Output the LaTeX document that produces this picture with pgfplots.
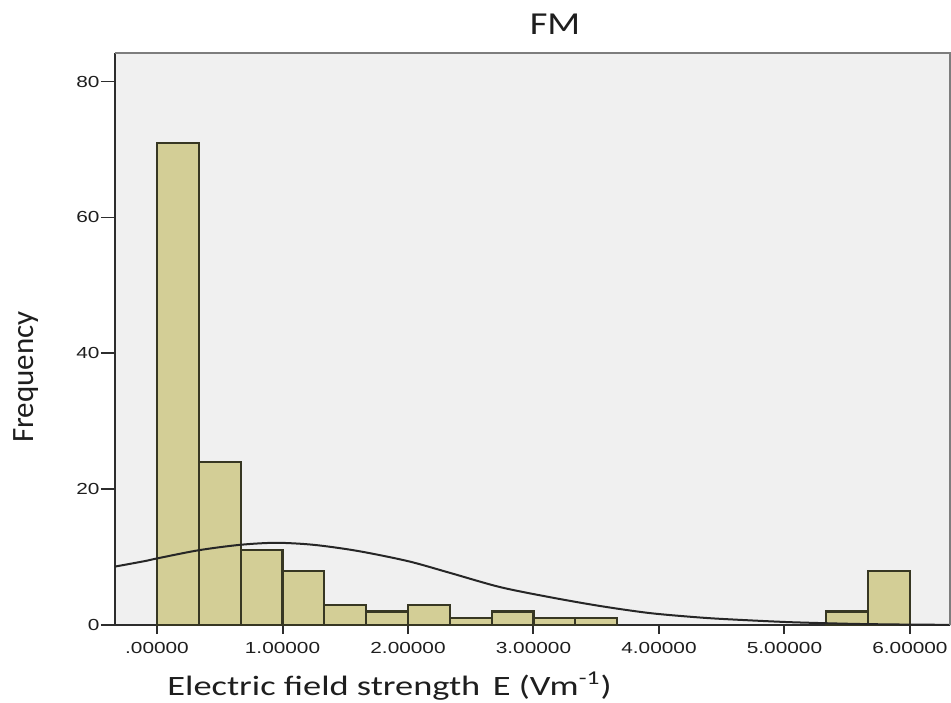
\documentclass[border=0pt]{standalone}
\usepackage{fontspec}
\usepackage{pgfplots}
\pgfplotsset{compat=1.18}
\setmainfont{Carlito}
\newfontfamily\tickfont[FakeStretch=1.3]{Liberation Sans}
\newfontfamily\labfont[FakeStretch=1.2]{Carlito}
\newfontfamily\xlabfont[FakeStretch=1.3]{Carlito}
\definecolor{barfill}{RGB}{211,206,150}
\definecolor{baredge}{RGB}{55,55,35}
\definecolor{bgcol}{RGB}{240,240,240}
\definecolor{framecol}{RGB}{125,125,125}
\definecolor{axcol}{RGB}{45,45,45}
\definecolor{txtcol}{RGB}{30,30,30}
\begin{document}
\begin{tikzpicture}
\path[use as bounding box] (0,0) rectangle (475.5pt,-351pt);
\begin{axis}[
  at={(57.5pt,-312.5pt)}, anchor=south west,
  scale only axis, width=417.5pt, height=286pt,
  xmin=-0.3347, xmax=6.319, ymin=0, ymax=84.2,
  axis background/.style={fill=bgcol},
  axis x line*=bottom, axis y line*=left,
  axis line style={-, draw=axcol, line width=1pt},
  tick align=outside,
  xtick={0,1,2,3,4,5,6},
  xticklabels={.00000,1.00000,2.00000,3.00000,4.00000,5.00000,6.00000},
  ytick={0,20,40,60,80},
  yticklabels={0,20,40,60,80},
  xtick style={draw=axcol, line width=1pt, /pgfplots/major tick length=4.5pt},
  ytick style={draw=axcol, line width=0.8pt, /pgfplots/major tick length=7pt},
  /pgf/number format/assume math mode=true,
  ticklabel style={font=\tickfont\fontsize{8}{9}\selectfont, text=txtcol},
  xticklabel style={anchor=north, yshift=-1pt},
  yticklabel style={anchor=east, xshift=0pt},
  clip=false,
]
\addplot[ybar interval, fill=barfill, draw=baredge, line width=1.1pt]
  coordinates {(0,71) (0.33333,24) (0.66667,11) (1.0,8) (1.33333,3) (1.66667,2) (2.0,3) (2.33333,1) (2.66667,2) (3.0,1) (3.33333,1) (3.66667,0)};
\addplot[ybar interval, fill=barfill, draw=baredge, line width=1.1pt]
  coordinates {(5.33333,2) (5.66667,8) (6.0,0)};
\addplot[smooth, draw=black!85, line width=1pt, mark=none]
  coordinates {(-0.335,8.6) (-0.1,9.4) (0,9.8) (0.33,11.0) (0.66,11.8) (0.95,12.1) (1.25,11.8) (1.6,10.9) (2.0,9.4) (2.33,7.7) (2.73,5.6) (3.13,4.1) (3.53,2.8) (3.93,1.75) (4.33,1.1) (4.6,0.8) (5.0,0.45) (5.3,0.28) (5.6,0.15) (6.0,0.06) (6.319,0.03)};
\draw[framecol, line width=1.2pt] (rel axis cs:0,1) -- (rel axis cs:1,1) -- (rel axis cs:1,0);
\end{axis}
\node[anchor=base, font=\labfont\fontsize{16}{18}\selectfont, text=txtcol] at (277.5pt,-17pt) {FM};
\node[anchor=base west, font=\xlabfont\fontsize{14}{16}\selectfont, text=txtcol, inner sep=0pt] at (83.5pt,-347.5pt) {Electric field strength\hspace{0.45em}E (Vm\textsuperscript{-1})};
\node[anchor=base, rotate=90, font=\fontsize{15.5}{17}\selectfont, text=txtcol, inner sep=0pt] at (16.75pt,-188.5pt) {Frequency};
\end{tikzpicture}
\end{document}
